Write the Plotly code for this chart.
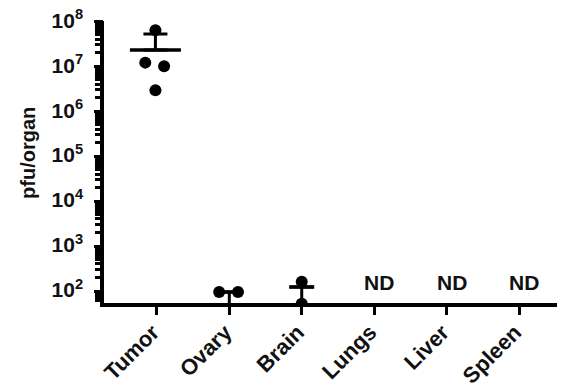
import plotly.graph_objects as go

# ---- data ----
categories = ["Tumor", "Ovary", "Brain", "Lungs", "Liver", "Spleen"]

# individual measurements (pfu/organ) for the organs where virus was detected
tumor_vals = [6.3e7, 1.2e7, 1.0e7, 2.9e6]
ovary_vals = [95, 95]
brain_vals = [160, 52]

# horizontal spread of the dots inside each column (category units)
tumor_spread = [-0.02, -0.16, 0.10, -0.02]
ovary_spread = [-0.14, 0.12]
brain_spread = [0.0, 0.0]

# group means and error bars
mean_groups = ["Tumor", "Ovary", "Brain"]
mean_vals = [2.3e7, 95, 123]
err_up = [2.9e7, 0, 0]
err_down = [0, 55, 83]

nd_groups = ["Lungs", "Liver", "Spleen"]
nd_label = "ND"

y_tick_exps = [2, 3, 4, 5, 6, 7, 8]

# ---- figure ----
idx = {c: i for i, c in enumerate(categories)}
FONT = "Liberation Sans, Arial, sans-serif"

fig = go.Figure()

dot_x = ([idx["Tumor"] + d for d in tumor_spread]
         + [idx["Ovary"] + d for d in ovary_spread]
         + [idx["Brain"] + d for d in brain_spread])
dot_y = tumor_vals + ovary_vals + brain_vals
mean_x = [idx[g] - 0.02 if g == "Tumor" else idx[g] for g in mean_groups]

# error bars (drawn with invisible markers at the means)
fig.add_trace(go.Scatter(
    x=mean_x, y=mean_vals, mode="markers",
    marker=dict(size=1, color="rgba(0,0,0,0)"),
    error_y=dict(type="data", symmetric=False, array=err_up,
                 arrayminus=err_down, color="black", thickness=3, width=12),
    showlegend=False, hoverinfo="skip",
))

# mean lines (zero-length error bars whose caps give the horizontal line)
for g, m, half in zip(mean_x, mean_vals, [25.5, 12.5, 12.5]):
    fig.add_trace(go.Scatter(
        x=[g], y=[m], mode="markers",
        marker=dict(size=1, color="rgba(0,0,0,0)"),
        error_y=dict(type="data", array=[0], color="black",
                     thickness=3.5, width=half),
        showlegend=False, hoverinfo="skip",
    ))

# individual dots
fig.add_trace(go.Scatter(
    x=dot_x, y=dot_y, mode="markers",
    marker=dict(size=12, color="black"),
    showlegend=False,
))

# invisible trace so that the overlay axis (long major ticks) is drawn
fig.add_trace(go.Scatter(x=[0], y=[100], xaxis="x", yaxis="y2", mode="markers",
                         marker=dict(size=1, color="rgba(0,0,0,0)"),
                         showlegend=False, hoverinfo="skip"))

# ND labels
for g in nd_groups:
    fig.add_annotation(x=idx[g], y=2.18, xref="x", yref="y", text=nd_label,
                       showarrow=False, xshift=5,
                       font=dict(family=FONT, size=21, color="#111", weight="bold"))

# y title as annotation
fig.add_annotation(x=-0.165, y=0.532, xref="paper", yref="paper",
                   xanchor="center", yanchor="middle",
                   text="pfu/organ", textangle=-90, showarrow=False,
                   font=dict(family=FONT, size=20, color="#111", weight="bold"))

major_vals = [10 ** e for e in y_tick_exps]
minor_vals = [k * 10 ** e for e in range(1, 8) for k in range(2, 10)]
all_vals = major_vals + minor_vals
all_text = [f"10<sup>{e}</sup>" for e in y_tick_exps] + ["" for _ in minor_vals]

# the page body keeps its default 8 px margin, so the figure is 8 px smaller
fig.update_layout(
    width=557, height=379,
    margin=dict(l=96, r=0, t=13, b=84, autoexpand=False),
    paper_bgcolor="white", plot_bgcolor="white",
    showlegend=False,
    xaxis=dict(
        range=[-0.73, 5.635], automargin=False,
        tickmode="array", tickvals=list(range(len(categories))), ticktext=categories,
        tickangle=-45,
        tickfont=dict(family=FONT, size=22, color="#111", weight="bold"),
        ticklabelshift=-4, ticklabelstandoff=-4, ticklabeloverflow="allow",
        showline=True, linecolor="black", linewidth=3.5,
        ticks="outside", ticklen=8, tickwidth=3, tickcolor="black",
        showgrid=False, zeroline=False,
    ),
    yaxis=dict(
        type="log", range=[1.733, 8.005], automargin=False,
        tickmode="array", tickvals=all_vals, ticktext=all_text,
        tickfont=dict(family=FONT, size=21, color="#111", weight="bold"),
        showline=True, linecolor="black", linewidth=3.5,
        ticks="outside", ticklen=5, tickwidth=2.5, tickcolor="black",
        ticklabelstandoff=8, ticklabelshift=-1, ticklabeloverflow="allow",
        showgrid=False, zeroline=False,
    ),
    yaxis2=dict(
        type="log", range=[1.733, 8.005], overlaying="y", side="left",
        anchor="x", automargin=False,
        tickmode="array", tickvals=major_vals, showticklabels=False,
        ticks="outside", ticklen=9, tickwidth=3, tickcolor="black",
        showline=False, showgrid=False, zeroline=False,
    ),
)

fig.write_html("out.html")
